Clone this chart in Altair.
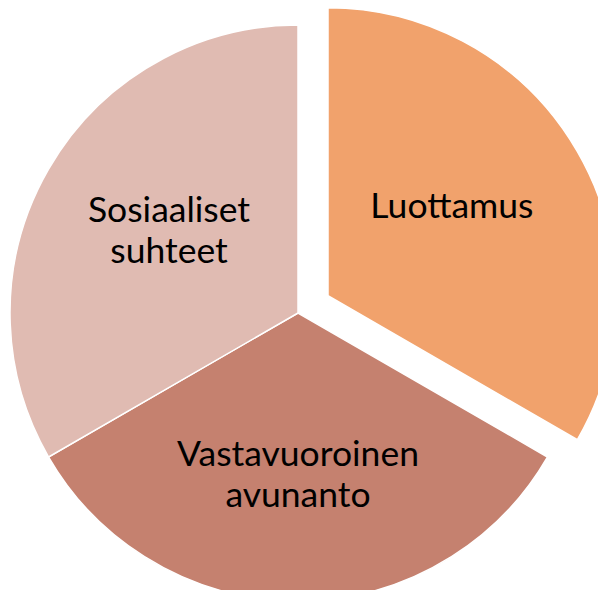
import altair as alt
import pandas as pd

categories = ["Luottamus", "Vastavuoroinen avunanto", "Sosiaaliset suhteet"]
labels = ["Luottamus", "Vastavuoroinen\navunanto", "Sosiaaliset\nsuhteet"]
values = [1, 1, 1]
order = [0, 1, 2]
colors = ["#F1A26C", "#C5816F", "#E0BBB2"]

df = pd.DataFrame({"category": categories, "label": labels, "value": values, "idx": order})

# layout: view is 590x582, pie centre shifted to sit where the reference has it
CX, CY = -5, 14          # shift of pie centre from view centre
EX, EY = 30, -17.3       # explode offset of the first slice
R = 288
LH = 41                  # line height of the labels

base = alt.Chart(df).encode(
    theta=alt.Theta("value:Q", stack=True),
    order=alt.Order("idx:Q"),
    color=alt.Color("category:N", scale=alt.Scale(domain=categories, range=colors), legend=None),
)

arc_kw = dict(outerRadius=R, stroke="white", strokeWidth=1.5)

arcs_main = base.mark_arc(xOffset=CX, yOffset=CY, **arc_kw).encode(
    opacity=alt.condition(alt.datum.category != "Luottamus", alt.value(1), alt.value(0))
)
arcs_exp = base.mark_arc(xOffset=CX + EX, yOffset=CY + EY, **arc_kw).encode(
    opacity=alt.condition(alt.datum.category == "Luottamus", alt.value(1), alt.value(0))
)

txt_kw = dict(font="Lato", fontSize=35.5, color="black", lineBreak="\n",
              lineHeight=LH, align="center", baseline="middle")

def text_layer(cat, radius, dx, dy):
    return alt.Chart(df).mark_text(radius=radius, dx=dx, dy=dy, **txt_kw).encode(
        theta=alt.Theta("value:Q", stack=True),
        order=alt.Order("idx:Q"),
        text="label:N",
        opacity=alt.condition(alt.datum.category == cat, alt.value(1), alt.value(0)),
    )

t1 = text_layer("Luottamus", 150, CX + EX - 6, CY + EY - 14)
t2 = text_layer("Vastavuoroinen avunanto", 162, CX, CY - LH / 2)
t3 = text_layer("Sosiaaliset suhteet", 153, CX + 3.5, CY - 5.5 - LH / 2)

chart = alt.layer(arcs_main, arcs_exp, t2, t3, t1).properties(
    width=590, height=582, padding=0,
    autosize=alt.AutoSizeParams(type="none"),
).configure_view(stroke=None)

chart.save("out.html", embed_options={"renderer": "svg", "actions": False})
